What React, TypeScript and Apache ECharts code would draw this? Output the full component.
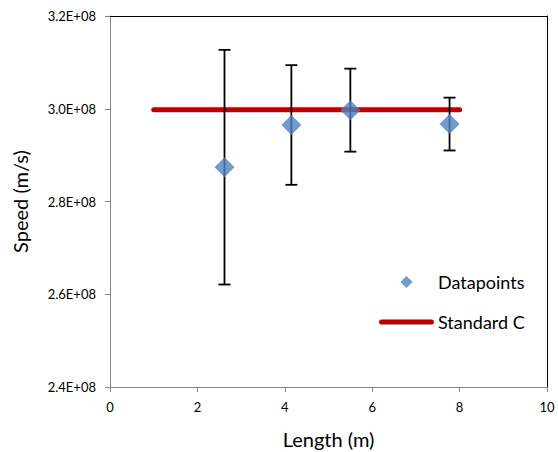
import React, { useEffect, useRef } from "react";
import * as echarts from "echarts";

const lengths = [2.62, 4.15, 5.5, 7.77];
const speeds = [2.874e8, 2.965e8, 2.997e8, 2.967e8];
const errors = [2.53e7, 1.29e7, 0.895e7, 0.57e7];
const standardX = [1, 8];
const standardC = 2.998e8;
const xTicks = { min: 0, max: 10, interval: 2 };
const yTicks = { min: 2.4e8, max: 3.2e8, interval: 0.2e8 };

const FONT = "Lato, 'Liberation Sans', sans-serif";

export default function App() {
  const ref = useRef<HTMLDivElement>(null);
  useEffect(() => {
    if (!ref.current) return;
    const chart = echarts.init(ref.current, null, { renderer: "svg" });
    const scatterData = lengths.map((x, i) => [x, speeds[i]]);
    const errData = lengths.map((x, i) => [x, speeds[i] - errors[i], speeds[i] + errors[i]]);
    const lineData = standardX.map((x) => [x, standardC]);
    chart.setOption({
      animation: false,
      textStyle: { fontFamily: FONT },
      grid: { left: 110, top: 16, right: 11, bottom: 65, containLabel: false, outerBoundsMode: "none" },
      legend: {
        orient: "vertical",
        left: 379,
        top: 272,
        padding: 0,
        itemWidth: 55,
        itemHeight: 12,
        itemGap: 20,
        symbolKeepAspect: true,
        textStyle: { fontSize: 18, color: "#000", fontFamily: FONT, lineHeight: 20, padding: [0, 0, 0, -1] },
        data: [
          { name: "Datapoints", icon: "path://M6,0 L12,6 L6,12 L0,6 Z", itemStyle: { color: "#4F81BD" } },
          {
            name: "Standard C",
            icon: "path://M2.5,0 L52.5,0 A2.5,2.5 0 0 1 52.5,5 L2.5,5 A2.5,2.5 0 0 1 2.5,0 Z",
            itemStyle: { color: "#C00000" },
          },
        ],
      },
      xAxis: [
        {
          type: "value",
          min: xTicks.min,
          max: xTicks.max,
          interval: xTicks.interval,
          name: "Length (m)",
          nameLocation: "middle",
          nameGap: 42,
          nameTextStyle: { fontSize: 20, color: "#000", fontFamily: FONT },
          axisLine: { show: true, onZero: false, lineStyle: { color: "#868686", width: 1 } },
          axisTick: { show: true, inside: false, length: 5, lineStyle: { color: "#868686" } },
          axisLabel: { fontSize: 13, color: "#000", margin: 13, fontFamily: FONT },
          splitLine: { show: false },
        },
        {
          type: "value",
          position: "top",
          min: xTicks.min,
          max: xTicks.max,
          axisLine: { show: true, onZero: false, lineStyle: { color: "#000", width: 1 } },
          axisTick: { show: false },
          axisLabel: { show: false },
          splitLine: { show: false },
        },
      ],
      yAxis: [
        {
          type: "value",
          min: yTicks.min,
          max: yTicks.max,
          interval: yTicks.interval,
          name: "Speed (m/s)",
          nameLocation: "middle",
          nameGap: 80,
          nameTextStyle: { fontSize: 20, color: "#000", fontFamily: FONT },
          axisLine: { show: true, onZero: false, lineStyle: { color: "#868686", width: 1 } },
          axisTick: { show: true, inside: false, length: 5, lineStyle: { color: "#868686" } },
          axisLabel: {
            fontSize: 13,
            color: "#000",
            margin: 14,
            fontFamily: FONT,
            formatter: (v: number) => (v / 1e8).toFixed(1) + "E+08",
          },
          splitLine: { show: false },
        },
        {
          type: "value",
          position: "right",
          min: yTicks.min,
          max: yTicks.max,
          axisLine: { show: true, onZero: false, lineStyle: { color: "#000", width: 1 } },
          axisTick: { show: false },
          axisLabel: { show: false },
          splitLine: { show: false },
        },
      ],
      series: [
        {
          name: "Standard C",
          type: "line",
          data: lineData,
          symbol: "none",
          z: 1,
          lineStyle: { color: "#C00000", width: 5, cap: "round" },
          itemStyle: { color: "#C00000" },
        },
        {
          name: "Errors",
          type: "custom",
          z: 2,
          data: errData,
          renderItem: (params: any, api: any) => {
            const x = api.value(0);
            const lo = api.coord([x, api.value(1)]);
            const hi = api.coord([x, api.value(2)]);
            const cap = 6;
            const style = { stroke: "#000", lineWidth: 1.8 };
            return {
              type: "group",
              children: [
                { type: "line", shape: { x1: lo[0], y1: lo[1], x2: hi[0], y2: hi[1] }, style },
                { type: "line", shape: { x1: lo[0] - cap, y1: lo[1], x2: lo[0] + cap, y2: lo[1] }, style },
                { type: "line", shape: { x1: hi[0] - cap, y1: hi[1], x2: hi[0] + cap, y2: hi[1] }, style },
              ],
            };
          },
        },
        {
          name: "Datapoints",
          type: "scatter",
          z: 3,
          data: scatterData,
          symbol: "diamond",
          symbolSize: 20,
          itemStyle: { color: "#4F81BD" },
        },
      ],
    });
    return () => chart.dispose();
  }, []);
  return <div ref={ref} style={{ width: 558, height: 452, position: "absolute", left: 0, top: 0 }} />;
}
